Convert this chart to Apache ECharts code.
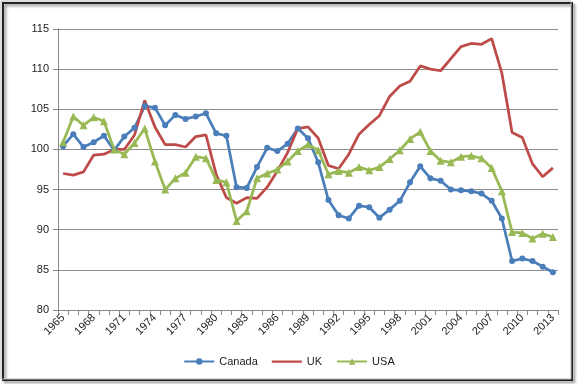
<!DOCTYPE html>
<html><head><meta charset="utf-8">
<script src="https://cdn.jsdelivr.net/npm/echarts@6/dist/echarts.min.js"></script>
<style>html,body{margin:0;padding:0;background:#fff;}#c{width:578px;height:384px;}</style>
</head><body><div id="c"></div>
<script>
const years = [];
for (let y = 1965; y <= 2013; y++) years.push(String(y));
const canada = [100.4,101.9,100.3,100.9,101.7,99.9,101.6,102.7,105.4,105.2,103.0,104.3,103.8,104.1,104.5,102.0,101.7,95.3,95.2,97.8,100.2,99.8,100.7,102.6,101.4,98.4,93.7,91.8,91.4,93.0,92.8,91.5,92.5,93.6,95.9,97.9,96.4,96.1,95.0,94.9,94.8,94.5,93.6,91.4,86.1,86.4,86.1,85.4,84.7];
const uk = [97.0,96.8,97.2,99.3,99.4,100.0,100.0,101.8,106.1,102.8,100.6,100.6,100.3,101.6,101.8,96.9,94.0,93.3,94.0,93.9,95.3,97.3,99.6,102.6,102.8,101.4,98.0,97.6,99.4,101.9,103.1,104.2,106.6,107.9,108.5,110.4,110.0,109.8,111.3,112.8,113.2,113.1,113.8,109.5,102.1,101.5,98.2,96.6,97.7];
const usa = [100.9,104.1,103.0,104.0,103.5,100.0,99.4,100.8,102.6,98.5,95.0,96.4,97.1,99.1,98.9,96.2,95.9,91.1,92.3,96.4,97.0,97.5,98.5,99.8,100.6,99.9,96.9,97.3,97.1,97.8,97.4,97.8,98.8,99.9,101.3,102.2,99.8,98.6,98.4,99.1,99.2,98.9,97.7,94.8,89.7,89.6,88.9,89.5,89.1];
const seriesNames = ['Canada', 'UK', 'USA'];

const chart = echarts.init(document.getElementById('c'));
const font = 'Liberation Sans';
const lineIcon = 'path://M0,3 L30,3 L30,5.2 L0,5.2 Z M0,0 L0.02,0 L0,0.02 Z M30,8 L29.98,8 L30,7.98 Z';
chart.setOption({
  animation: false,
  textStyle: {fontFamily: font},
  graphic: [
    {type: 'rect', shape: {x: 3, y: 3, width: 569, height: 377}, style: {fill: 'none', stroke: '#222', lineWidth: 2, shadowBlur: 3, shadowColor: 'rgba(0,0,0,0.5)', shadowOffsetX: 2, shadowOffsetY: 2}, z: 0},
    {type: 'rect', shape: {x: 1, y: 1, width: 570, height: 378}, style: {fill: 'none', stroke: '#bbb', lineWidth: 1}, z: 1}
  ],
  grid: {left: 58, right: 20, top: 29, bottom: 74},
  legend: {
    bottom: 12, left: 'center', itemWidth: 30, itemHeight: 8, itemGap: 14,
    textStyle: {fontFamily: font, fontSize: 11, color: '#222'},
    data: [seriesNames[0], {name: seriesNames[1], icon: lineIcon}, seriesNames[2]]
  },
  xAxis: {
    type: 'category', data: years, boundaryGap: true,
    axisLine: {lineStyle: {color: '#888'}},
    axisTick: {show: true, interval: 0, length: 5, lineStyle: {color: '#888'}},
    axisLabel: {interval: 2, rotate: 45, fontSize: 11, color: '#222', fontFamily: font, margin: 6}
  },
  yAxis: {
    type: 'value', min: 80, max: 115, interval: 5,
    axisLine: {show: true, lineStyle: {color: '#888'}},
    axisTick: {show: true, length: 5, lineStyle: {color: '#888'}},
    splitLine: {lineStyle: {color: '#8c8c8c'}},
    axisLabel: {fontSize: 11, color: '#222', fontFamily: font, margin: 9}
  },
  series: [
    {name: seriesNames[0], type: 'line', data: canada, symbol: 'circle', symbolSize: 6, showSymbol: true, showAllSymbol: true,
      itemStyle: {color: '#4a7ebb'}, lineStyle: {width: 2.75, color: '#4a7ebb'}},
    {name: seriesNames[1], type: 'line', data: uk, symbol: 'none', showSymbol: false,
      itemStyle: {color: '#be4b48'}, lineStyle: {width: 2.75, color: '#be4b48'}},
    {name: seriesNames[2], type: 'line', data: usa, symbol: 'triangle', symbolSize: 8, showSymbol: true, showAllSymbol: true,
      itemStyle: {color: '#98b954'}, lineStyle: {width: 2.75, color: '#98b954'}}
  ]
});
</script></body></html>
